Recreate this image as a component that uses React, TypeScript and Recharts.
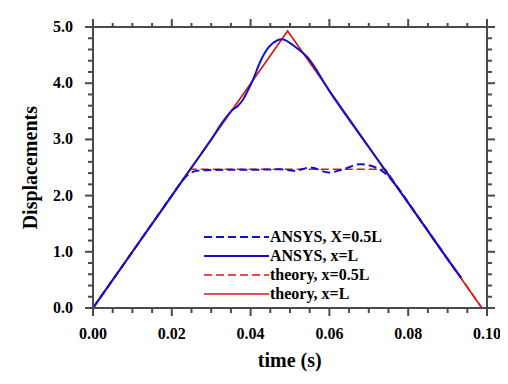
import React from "react";
import { ComposedChart, Line, XAxis, YAxis } from "recharts";

// ---- data ----
const theoryLT = [0, 0.0494, 0.0987];
const theoryLY = [0, 4.93, 0];

const theoryHalfT = [0, 0.0247, 0.0742, 0.0987];
const theoryHalfY = [0, 2.47, 2.47, 0];

const ansysLT = [0, 0.005, 0.01, 0.015, 0.02, 0.025, 0.03, 0.033, 0.0353, 0.0368, 0.0381, 0.0393, 0.0406, 0.0425, 0.0446, 0.0467, 0.048, 0.0501, 0.0522, 0.0543, 0.06, 0.07, 0.08, 0.09, 0.0934];
const ansysLY = [0, 0.5, 1.0, 1.5, 2.0, 2.5, 3.0, 3.32, 3.52, 3.6, 3.71, 3.87, 4.06, 4.39, 4.64, 4.76, 4.78, 4.71, 4.6, 4.47, 3.86, 2.86, 1.87, 0.87, 0.54];

const ansysHalfT = [0, 0.005, 0.01, 0.015, 0.02, 0.0222, 0.0243, 0.0264, 0.0298, 0.035, 0.04, 0.045, 0.0476, 0.0509, 0.0552, 0.0598, 0.0632, 0.0678, 0.0721, 0.0746, 0.077, 0.08, 0.085, 0.09, 0.0934];
const ansysHalfY = [0, 0.5, 1.0, 1.5, 2.0, 2.22, 2.38, 2.44, 2.455, 2.46, 2.46, 2.465, 2.47, 2.44, 2.5, 2.41, 2.46, 2.56, 2.49, 2.37, 2.17, 1.87, 1.37, 0.87, 0.54];

const xTicks = [0, 0.005, 0.01, 0.015, 0.02, 0.025, 0.03, 0.035, 0.04, 0.045, 0.05, 0.055, 0.06, 0.065, 0.07, 0.075, 0.08, 0.085, 0.09, 0.095, 0.1];
const yTicks = [0, 0.2, 0.4, 0.6, 0.8, 1.0, 1.2, 1.4, 1.6, 1.8, 2.0, 2.2, 2.4, 2.6, 2.8, 3.0, 3.2, 3.4, 3.6, 3.8, 4.0, 4.2, 4.4, 4.6, 4.8, 5.0];

const legendLabels = ["ANSYS, X=0.5L", "ANSYS, x=L", "theory, x=0.5L", "theory, x=L"];

const BLUE = "#1212cc";
const RED = "#e01414";
const AXIS = "#4a4a4a";
const FONT = "'Liberation Serif', 'Times New Roman', serif";

const zip = (ts: number[], ys: number[]) => ts.map((t, i) => ({ t, y: ys[i] }));

const legendStyles = [
  { color: BLUE, dash: "8 4", width: 2 },
  { color: BLUE, dash: undefined, width: 2 },
  { color: RED, dash: "8 4", width: 1.6 },
  { color: RED, dash: undefined, width: 1.6 },
];

const XTickBottom = (props: any) => {
  const { x, y, index, payload } = props;
  const major = index % 4 === 0;
  return (
    <g>
      <line x1={x} x2={x} y1={y} y2={y + (major ? 8 : 5)} stroke={AXIS} strokeWidth={2} />
      {major && (
        <text x={x} y={y + 31} textAnchor="middle" fontFamily={FONT} fontWeight="bold" fontSize={16} fill="#000">
          {Number(payload.value).toFixed(2)}
        </text>
      )}
    </g>
  );
};

const XTickTop = (props: any) => {
  const { x, y, index } = props;
  const major = index % 4 === 0;
  return <line x1={x} x2={x} y1={y} y2={y - (major ? 8 : 4)} stroke={AXIS} strokeWidth={2} />;
};

const YTickLeft = (props: any) => {
  const { x, y, index, payload } = props;
  const major = index % 5 === 0;
  return (
    <g>
      <line x1={x} x2={x - (major ? 8 : 5)} y1={y} y2={y} stroke={AXIS} strokeWidth={2} />
      {major && (
        <text x={x - 20} y={y + 5} textAnchor="end" fontFamily={FONT} fontWeight="bold" fontSize={16} fill="#000">
          {Number(payload.value).toFixed(1)}
        </text>
      )}
    </g>
  );
};

const YTickRight = (props: any) => {
  const { x, y, index } = props;
  const major = index % 5 === 0;
  return <line x1={x} x2={x + (major ? 8 : 5)} y1={y} y2={y} stroke={AXIS} strokeWidth={2} />;
};

export default function App() {
  const W = 500;
  const H = 376;
  return (
    <div style={{ position: "relative", width: W, height: H }}>
      <ComposedChart width={W} height={H} margin={{ top: 9, right: 11, bottom: 46, left: 45 }}>
        <XAxis
          xAxisId="b"
          type="number"
          dataKey="t"
          domain={[0, 0.1]}
          ticks={xTicks}
          interval={0}
          height={30}
          tickSize={0}
          tickMargin={0}
          tickLine={false}
          axisLine={{ stroke: AXIS, strokeWidth: 2 }}
          tick={<XTickBottom />}
          allowDataOverflow
        />
        <XAxis
          xAxisId="t"
          orientation="top"
          type="number"
          dataKey="t"
          domain={[0, 0.1]}
          ticks={xTicks}
          interval={0}
          height={10}
          tickSize={0}
          tickMargin={0}
          tickLine={false}
          axisLine={{ stroke: AXIS, strokeWidth: 2 }}
          tick={<XTickTop />}
          allowDataOverflow
        />
        <YAxis
          yAxisId="l"
          type="number"
          domain={[0, 5]}
          ticks={yTicks}
          interval={0}
          width={40}
          tickSize={0}
          tickMargin={0}
          tickLine={false}
          axisLine={{ stroke: AXIS, strokeWidth: 2 }}
          tick={<YTickLeft />}
          allowDataOverflow
        />
        <YAxis
          yAxisId="r"
          orientation="right"
          type="number"
          domain={[0, 5]}
          ticks={yTicks}
          interval={0}
          width={10}
          tickSize={0}
          tickMargin={0}
          tickLine={false}
          axisLine={{ stroke: AXIS, strokeWidth: 2 }}
          tick={<YTickRight />}
          allowDataOverflow
        />
        <Line xAxisId="b" yAxisId="l" data={zip(theoryHalfT, theoryHalfY)} dataKey="y" type="linear" stroke={RED} strokeWidth={1.6} strokeDasharray="8 4" dot={false} isAnimationActive={false} />
        <Line xAxisId="b" yAxisId="l" data={zip(theoryLT, theoryLY)} dataKey="y" type="linear" stroke={RED} strokeWidth={1.6} dot={false} isAnimationActive={false} />
        <Line xAxisId="b" yAxisId="l" data={zip(ansysHalfT, ansysHalfY)} dataKey="y" type="monotone" stroke={BLUE} strokeWidth={2} strokeDasharray="8 4" dot={false} isAnimationActive={false} />
        <Line xAxisId="b" yAxisId="l" data={zip(ansysLT, ansysLY)} dataKey="y" type="monotone" stroke={BLUE} strokeWidth={2} dot={false} isAnimationActive={false} />
      </ComposedChart>
      <svg width={W} height={H} style={{ position: "absolute", left: 0, top: 0, pointerEvents: "none" }}>
        <text x={281.7} y={359} textAnchor="middle" fontFamily={FONT} fontWeight="bold" fontSize={20} fill="#000">
          time (s)
        </text>
        <text
          transform="translate(29,159.7) rotate(-90)"
          textAnchor="middle"
          fontFamily={FONT}
          fontWeight="bold"
          fontSize={20}
          fill="#000"
        >
          Displacements
        </text>
        {legendLabels.map((label, i) => {
          const yy = 229 + i * 19;
          const s = legendStyles[i];
          return (
            <g key={label}>
              <line x1={196} x2={261} y1={yy} y2={yy} stroke={s.color} strokeWidth={s.width} strokeDasharray={s.dash} />
              <text x={262} y={yy + 5} fontFamily={FONT} fontWeight="bold" fontSize={16} fill="#000">
                {label}
              </text>
            </g>
          );
        })}
      </svg>
    </div>
  );
}
